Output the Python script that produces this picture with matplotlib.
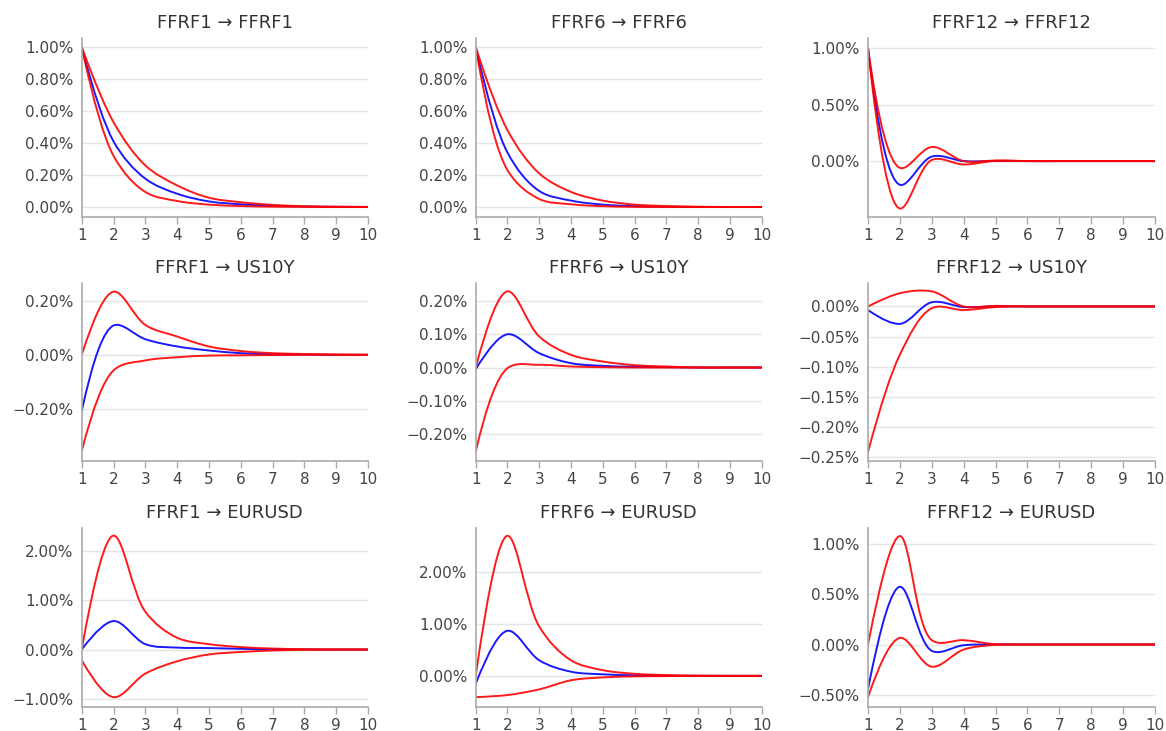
import numpy as np
import matplotlib
matplotlib.use("Agg")
import matplotlib.pyplot as plt
from matplotlib.path import Path
from matplotlib.patches import PathPatch
from matplotlib.ticker import FuncFormatter, MultipleLocator

# horizons (months after the shock)
horizons = [1, 2, 3, 4, 5, 6, 7, 8, 9, 10]

shocks = ["FFRF1", "FFRF6", "FFRF12"]
responses = [None, "US10Y", "EURUSD"]  # first row: own response

# impulse responses in percent: lower band, point estimate, upper band
FFRF1_FFRF1_LO = [1.00, 0.32, 0.094, 0.0375, 0.015, 0.006, 0.002, 0.001, 0.000, 0.000]
FFRF1_FFRF1_IRF = [1.00, 0.41, 0.177, 0.083, 0.035, 0.017, 0.008, 0.003, 0.001, 0.000]
FFRF1_FFRF1_HI = [1.00, 0.53, 0.260, 0.135, 0.058, 0.030, 0.013, 0.005, 0.002, 0.001]

FFRF6_FFRF6_LO = [1.00, 0.23, 0.050, 0.017, 0.005, 0.001, 0.000, 0.000, 0.000, 0.000]
FFRF6_FFRF6_IRF = [1.00, 0.34, 0.100, 0.040, 0.015, 0.005, 0.002, 0.000, 0.000, 0.000]
FFRF6_FFRF6_HI = [1.00, 0.48, 0.210, 0.094, 0.040, 0.015, 0.006, 0.002, 0.000, 0.000]

FFRF12_FFRF12_LO = [1.00, -0.42, 0.010, -0.030, 0.003, 0.000, 0.000, 0.000, 0.000, 0.000]
FFRF12_FFRF12_IRF = [1.00, -0.21, 0.040, 0.000, 0.000, 0.000, 0.000, 0.000, 0.000, 0.000]
FFRF12_FFRF12_HI = [1.00, -0.06, 0.125, 0.000, 0.005, 0.000, 0.000, 0.000, 0.000, 0.000]

FFRF1_US10Y_LO = [-0.358, -0.058, -0.021, -0.009, -0.003, -0.002, -0.001, 0.000, 0.000, 0.000]
FFRF1_US10Y_IRF = [-0.21, 0.109, 0.058, 0.031, 0.016, 0.006, 0.002, 0.001, 0.000, 0.000]
FFRF1_US10Y_HI = [0.00, 0.235, 0.111, 0.068, 0.031, 0.014, 0.006, 0.003, 0.001, 0.000]

FFRF6_US10Y_LO = [-0.253, -0.002, 0.008, 0.003, 0.001, 0.000, 0.000, 0.000, 0.000, 0.000]
FFRF6_US10Y_IRF = [-0.005, 0.100, 0.043, 0.013, 0.005, 0.002, 0.001, 0.000, 0.000, 0.000]
FFRF6_US10Y_HI = [0.000, 0.229, 0.093, 0.038, 0.018, 0.007, 0.003, 0.000, 0.000, 0.000]

FFRF12_US10Y_LO = [-0.242, -0.080, -0.003, -0.006, -0.001, 0.000, 0.000, 0.000, 0.000, 0.000]
FFRF12_US10Y_IRF = [-0.006, -0.029, 0.007, -0.001, 0.000, 0.000, 0.000, 0.000, 0.000, 0.000]
FFRF12_US10Y_HI = [0.000, 0.022, 0.025, 0.000, 0.001, 0.000, 0.000, 0.000, 0.000, 0.000]

FFRF1_EURUSD_LO = [-0.22, -0.97, -0.49, -0.24, -0.10, -0.05, -0.02, -0.008, -0.003, 0.000]
FFRF1_EURUSD_IRF = [0.00, 0.58, 0.11, 0.04, 0.03, 0.015, 0.005, 0.002, 0.000, 0.000]
FFRF1_EURUSD_HI = [0.00, 2.32, 0.77, 0.24, 0.11, 0.05, 0.02, 0.008, 0.003, 0.000]

FFRF6_EURUSD_LO = [-0.41, -0.37, -0.26, -0.085, -0.03, -0.01, -0.004, 0.000, 0.000, 0.000]
FFRF6_EURUSD_IRF = [-0.15, 0.87, 0.30, 0.08, 0.03, 0.01, 0.004, 0.000, 0.000, 0.000]
FFRF6_EURUSD_HI = [0.00, 2.70, 0.95, 0.30, 0.11, 0.04, 0.015, 0.005, 0.000, 0.000]

FFRF12_EURUSD_LO = [-0.52, 0.066, -0.22, -0.05, -0.003, 0.000, 0.000, 0.000, 0.000, 0.000]
FFRF12_EURUSD_IRF = [-0.44, 0.573, -0.063, -0.007, 0.000, 0.000, 0.000, 0.000, 0.000, 0.000]
FFRF12_EURUSD_HI = [0.00, 1.076, 0.043, 0.043, 0.003, 0.000, 0.000, 0.000, 0.000, 0.000]

panels = [
    [(FFRF1_FFRF1_LO, FFRF1_FFRF1_IRF, FFRF1_FFRF1_HI),
     (FFRF6_FFRF6_LO, FFRF6_FFRF6_IRF, FFRF6_FFRF6_HI),
     (FFRF12_FFRF12_LO, FFRF12_FFRF12_IRF, FFRF12_FFRF12_HI)],
    [(FFRF1_US10Y_LO, FFRF1_US10Y_IRF, FFRF1_US10Y_HI),
     (FFRF6_US10Y_LO, FFRF6_US10Y_IRF, FFRF6_US10Y_HI),
     (FFRF12_US10Y_LO, FFRF12_US10Y_IRF, FFRF12_US10Y_HI)],
    [(FFRF1_EURUSD_LO, FFRF1_EURUSD_IRF, FFRF1_EURUSD_HI),
     (FFRF6_EURUSD_LO, FFRF6_EURUSD_IRF, FFRF6_EURUSD_HI),
     (FFRF12_EURUSD_LO, FFRF12_EURUSD_IRF, FFRF12_EURUSD_HI)],
]

# layout (axes limits and tick steps per panel)
ylims = [
    [(-0.0625, 1.056), (-0.0625, 1.056), (-0.495, 1.09)],
    [(-0.395, 0.267), (-0.281, 0.254), (-0.257, 0.039)],
    [(-1.17, 2.475), (-0.60, 2.85), (-0.62, 1.156)],
]
ysteps = [[0.2, 0.2, 0.5], [0.2, 0.1, 0.05], [1.0, 1.0, 0.5]]

col_left = [81.7, 475.7, 868.0]
col_right = [368.0, 761.7, 1155.0]
row_top = [38.0, 283.0, 528.0]
row_bottom = [217.0, 461.0, 707.0]
W, H = 1166, 731

plt.rcParams['font.family'] = ['DejaVu Sans']


def make_tangent(prev, this, nxt, smoothness=1.0):
    # centripetal catmull-rom control points (same idea as plotly's spline)
    d1 = prev - this
    d2 = nxt - this
    d1a = np.hypot(*d1) ** 0.5
    d2a = np.hypot(*d2) ** 0.5
    num = (d2a * d2a * d1 - d1a * d1a * d2) * smoothness
    den1 = 3 * d2a * (d1a + d2a)
    den2 = 3 * d1a * (d1a + d2a)
    a = this + (num / den1 if den1 else 0)
    b = this - (num / den2 if den2 else 0)
    return a, b


def smooth_path(x, y, sx, sy):
    """smooth curve through the points; tangents are worked out in pixel
    scale (sx, sy = pixels per data unit) then mapped back to data coords"""
    pts = np.column_stack([np.asarray(x, float) * sx, np.asarray(y, float) * sy])
    n = len(pts)
    tang = [make_tangent(pts[i - 1], pts[i], pts[i + 1]) for i in range(1, n - 1)]
    verts = [pts[0], tang[0][0], pts[1]]
    codes = [Path.MOVETO, Path.CURVE3, Path.CURVE3]
    for i in range(2, n - 1):
        verts += [tang[i - 2][1], tang[i - 1][0], pts[i]]
        codes += [Path.CURVE4] * 3
    verts += [tang[n - 3][1], pts[n - 1]]
    codes += [Path.CURVE3] * 2
    verts = np.array(verts) / np.array([sx, sy])
    return Path(verts, codes)


def pct(v, pos):
    if abs(v) < 1e-9:
        v = 0.0
    return f"{v:.2f}%".replace("-", "\u2212")


fig = plt.figure(figsize=(W / 100, H / 100), dpi=100)

for r in range(3):
    for c in range(3):
        left = col_left[c] / W
        bottom = 1 - row_bottom[r] / H
        wpx = col_right[c] - col_left[c]
        hpx = row_bottom[r] - row_top[r]
        ax = fig.add_axes([left, bottom, wpx / W, hpx / H])

        y0, y1 = ylims[r][c]
        sx = wpx / (horizons[-1] - horizons[0])
        sy = hpx / (y1 - y0)

        lo, irf, hi = panels[r][c]
        for series, color in [(irf, '#0000ff'), (lo, '#ff0000'), (hi, '#ff0000')]:
            patch = PathPatch(smooth_path(horizons, series, sx, sy), fill=False,
                              edgecolor=color, lw=1.4, alpha=0.9,
                              capstyle='round', joinstyle='round')
            ax.add_patch(patch)

        ax.set_xlim(horizons[0], horizons[-1])
        ax.set_ylim(y0, y1)
        ax.set_xticks(horizons)
        ax.yaxis.set_major_locator(MultipleLocator(ysteps[r][c]))
        ax.yaxis.set_major_formatter(FuncFormatter(pct))

        ax.grid(axis='y', color='#e4e4e4', lw=1.0)
        ax.set_axisbelow(True)
        for s in ['top', 'right']:
            ax.spines[s].set_visible(False)
        for s in ['left', 'bottom']:
            ax.spines[s].set_color('#aaaaaa')
            ax.spines[s].set_linewidth(1.2)
        ax.tick_params(axis='x', length=5, width=1, color='#aaaaaa',
                       labelsize=11, labelcolor='#444444', pad=3)
        ax.tick_params(axis='y', length=0, labelsize=11,
                       labelcolor='#444444', pad=6)

        resp = responses[r] if responses[r] else shocks[c]
        ax.set_title(f"{shocks[c]} \u2192 {resp}", fontsize=13,
                     color='#333333', pad=7)

fig.savefig("out.png", dpi=100, facecolor='white')
